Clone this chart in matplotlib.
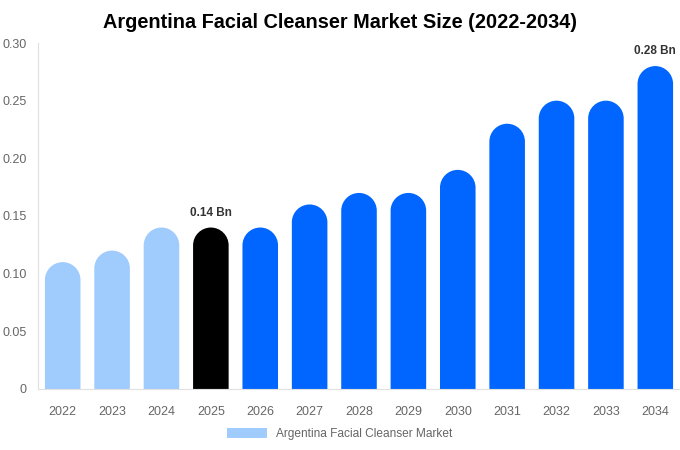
import matplotlib
matplotlib.use("Agg")
import matplotlib.pyplot as plt
from matplotlib.patches import PathPatch, Patch
from matplotlib.path import Path

years = ["2022", "2023", "2024", "2025", "2026", "2027", "2028", "2029", "2030", "2031", "2032", "2033", "2034"]
values = [0.11, 0.12, 0.14, 0.14, 0.14, 0.16, 0.17, 0.17, 0.19, 0.23, 0.25, 0.25, 0.28]
colors = ["#a0cbfd"] * 3 + ["#000000"] + ["#0066ff"] * 9
annotations = {3: "0.14 Bn", 12: "0.28 Bn"}
yticks = [0, 0.05, 0.10, 0.15, 0.20, 0.25, 0.30]
ytick_labels = ["0", "0.05", "0.10", "0.15", "0.20", "0.25", "0.30"]
legend_label = "Argentina Facial Cleanser Market"
title = "Argentina Facial Cleanser Market Size (2022-2034)"

plt.rcParams['font.family'] = ['Liberation Sans', 'DejaVu Sans']

fig = plt.figure(figsize=(6.8, 4.5), dpi=100)
ax = fig.add_axes([0.0559, 0.1356, 0.9441, 0.7688])

x = list(range(len(years)))
bw = 0.72
bars = ax.bar(x, values, width=bw, color=colors)
ax.set_xlim(-0.5, len(years) - 0.5)
ax.set_ylim(0, 0.30)

# rounded tops: compute y-radius in data units matching pixel half-width
fig.canvas.draw()
bbox = ax.get_window_extent()
px_per_x = bbox.width / (len(years))
px_per_y = bbox.height / 0.30
r_px = bw / 2 * px_per_x
ry = r_px / px_per_y
K = 0.5523
for b in bars:
    b.set_visible(False)
    x0 = b.get_x()
    x1 = x0 + bw
    rx = bw / 2
    xc = x0 + rx
    h = b.get_height()
    yb = h - ry
    verts = [
        (x0, 0), (x0, yb),
        (x0, yb + K * ry), (xc - K * rx, h), (xc, h),
        (xc + K * rx, h), (x1, yb + K * ry), (x1, yb),
        (x1, 0), (x0, 0),
    ]
    codes = [Path.MOVETO, Path.LINETO,
             Path.CURVE4, Path.CURVE4, Path.CURVE4,
             Path.CURVE4, Path.CURVE4, Path.CURVE4,
             Path.LINETO, Path.CLOSEPOLY]
    ax.add_patch(PathPatch(Path(verts, codes), facecolor=b.get_facecolor(),
                           edgecolor='none'))

for i, txt in annotations.items():
    ax.text(x[i], values[i] + 0.0075, txt, ha='center', va='bottom',
            fontsize=8.5, fontweight='bold', color='#333333')

ax.set_xticks(x)
ax.set_xticklabels(years, fontsize=9, color='#666666')
ax.set_yticks(yticks)
ax.set_yticklabels(ytick_labels, fontsize=9, color='#666666')
ax.tick_params(axis='both', length=0)
ax.tick_params(axis='x', pad=12)
ax.tick_params(axis='y', pad=8)
for s in ['top', 'right']:
    ax.spines[s].set_visible(False)
ax.spines['left'].set_color('#e0e0e0')
ax.spines['bottom'].set_color('#e0e0e0')

fig.suptitle(title, fontsize=14.3, fontweight='bold', y=0.97)

fig.legend(handles=[Patch(facecolor='#a0cbfd', edgecolor='none', label=legend_label)],
           loc='center', bbox_to_anchor=(0.5, 0.036), frameon=False, fontsize=8.6,
           labelcolor='#666666', handlelength=3.3, handleheight=0.9)

fig.savefig("out.png", dpi=100)
